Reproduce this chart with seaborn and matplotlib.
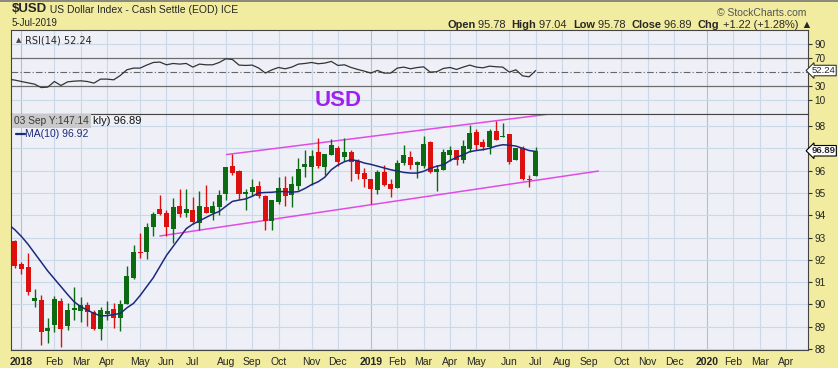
import numpy as np
import pandas as pd
import matplotlib
matplotlib.use("Agg")
import matplotlib.pyplot as plt
import matplotlib.transforms as mtransforms
import seaborn as sns

# weekly candles: index 0 = week of 25 Dec 2017 ... 79 = week of 1 Jul 2019
opens = [92.86, 91.81, 91.69, 90.17, 90.20, 88.83, 89.08, 90.17, 89.04, 89.75,
         89.72, 89.97, 89.65, 88.90, 89.57, 89.79, 89.40, 90.02, 91.20, 92.36,
         92.36, 93.48, 94.26, 94.11, 93.38, 94.41, 94.09, 94.23, 93.65, 94.35,
         94.10, 94.37, 94.96, 96.19, 95.97, 94.96, 95.03, 95.32, 94.85, 93.73,
         94.59, 95.21, 94.92, 95.30, 96.15, 96.16, 96.82, 96.16, 96.71, 97.01,
         96.61, 96.82, 96.42, 95.89, 95.64, 95.12, 95.94, 95.40, 95.22, 96.34,
         96.61, 96.26, 96.22, 97.28, 95.92, 96.04, 96.71, 96.91, 96.49, 96.97,
         97.72, 97.28, 97.06, 97.76, 97.51, 97.65, 96.49, 97.01, 95.60, 95.78]
highs = [92.90, 91.91, 92.29, 90.68, 90.42, 89.38, 90.38, 90.27, 90.08, 90.80,
         90.34, 90.12, 89.75, 89.90, 90.17, 90.05, 90.20, 91.72, 92.66, 93.19,
         93.64, 94.16, 94.90, 94.23, 94.76, 95.17, 95.17, 94.83, 95.07, 95.37,
         94.62, 95.12, 96.16, 96.76, 96.04, 95.17, 95.62, 95.52, 94.92, 94.67,
         95.71, 95.74, 95.77, 96.57, 96.94, 96.94, 97.46, 96.76, 97.42, 97.12,
         97.46, 96.91, 96.52, 96.12, 95.64, 96.04, 96.26, 95.62, 96.49, 97.13,
         96.87, 96.42, 97.57, 97.31, 96.26, 96.97, 97.09, 96.91, 97.39, 98.06,
         97.87, 97.42, 97.87, 98.21, 98.13, 97.65, 97.01, 97.09, 95.82, 97.04]
lows = [91.65, 91.36, 90.42, 89.87, 88.18, 88.28, 88.78, 88.10, 88.85, 89.30,
        89.22, 89.03, 88.85, 88.43, 89.30, 88.93, 88.82, 90.00, 91.13, 92.07,
        92.02, 93.07, 94.02, 93.07, 92.74, 93.93, 93.93, 93.60, 93.35, 94.10,
        93.80, 94.02, 94.67, 95.82, 94.73, 94.25, 94.85, 94.77, 93.32, 93.32,
        94.52, 94.40, 94.37, 95.14, 95.70, 95.37, 96.12, 95.82, 96.71, 96.22,
        96.42, 95.52, 95.62, 95.26, 94.52, 94.96, 95.32, 94.82, 95.22, 96.26,
        96.07, 95.67, 96.12, 95.89, 95.07, 96.04, 96.42, 96.26, 96.34, 96.82,
        96.91, 96.91, 96.76, 97.39, 97.51, 96.31, 96.49, 95.56, 95.26, 95.78]
closes = [91.72, 91.57, 90.57, 90.29, 88.78, 88.93, 90.23, 88.90, 89.75, 89.85,
          89.97, 89.67, 88.90, 89.75, 89.70, 89.40, 90.02, 91.27, 92.36, 92.32,
          93.46, 94.05, 94.05, 93.46, 94.35, 94.05, 94.28, 93.71, 94.40, 94.10,
          94.40, 94.89, 96.16, 95.89, 94.96, 95.03, 95.26, 94.85, 93.73, 94.67,
          95.21, 94.85, 95.40, 96.07, 96.30, 96.67, 96.19, 96.76, 97.13, 96.40,
          96.82, 96.37, 95.86, 95.64, 95.17, 95.92, 95.37, 95.19, 96.34, 96.69,
          96.26, 96.39, 97.19, 95.94, 96.07, 96.82, 96.94, 96.49, 97.09, 97.69,
          97.13, 97.06, 97.76, 97.39, 97.57, 96.37, 97.01, 95.62, 95.57, 96.89]

# MA(10) as drawn, index -1 .. 79
ma10 = [93.60, 93.35, 93.05, 92.70, 92.30, 91.90, 91.50, 91.15, 90.80, 90.45,
        90.12, 89.90, 89.75, 89.60, 89.49, 89.50, 89.55, 89.60, 89.85, 90.05,
        90.40, 90.80, 91.20, 91.70, 92.20, 92.60, 93.00, 93.40, 93.60, 93.75,
        93.90, 94.05, 94.17, 94.40, 94.62, 94.68, 94.73, 94.85, 95.00, 95.02,
        95.03, 95.06, 95.06, 95.03, 95.06, 95.20, 95.37, 95.50, 95.70, 96.04,
        96.25, 96.40, 96.49, 96.44, 96.34, 96.28, 96.20, 96.12, 96.04, 95.98,
        95.92, 95.89, 95.89, 95.97, 96.10, 96.20, 96.26, 96.45, 96.60, 96.71,
        96.85, 96.90, 96.94, 97.00, 97.10, 97.16, 97.14, 97.10, 97.00, 96.90,
        96.86]

# RSI(14), index -1 .. 79
rsi14 = [40.0, 38.6, 36.6, 34.7, 32.8, 28.0, 28.6, 36.6, 30.9, 36.1,
         37.1, 37.6, 36.6, 34.3, 40.0, 40.0, 39.0, 45.2, 53.3, 55.7,
         55.7, 60.0, 63.7, 64.3, 60.4, 62.3, 61.4, 62.3, 57.1, 61.4,
         60.4, 60.4, 63.7, 69.0, 68.0, 60.0, 59.5, 60.0, 55.7, 48.6,
         53.3, 56.6, 54.7, 57.1, 61.4, 62.3, 63.7, 61.9, 62.8, 65.2,
         59.5, 60.4, 56.6, 53.8, 51.4, 48.6, 52.4, 48.6, 48.6, 55.7,
         57.1, 54.7, 56.5, 57.5, 50.0, 50.5, 55.2, 56.6, 53.8, 57.1,
         60.0, 57.1, 56.1, 58.5, 57.6, 57.1, 50.0, 53.3, 44.7, 43.3,
         52.24]

# channel trendlines (week index, price)
upper_x = [32.1, 82.0]
upper_y = [96.72, 98.57]
lower_x = [22.0, 88.5]
lower_y = [93.07, 95.98]

# month gridlines / labels (week index)
month_pos = [1, 6, 10, 14, 19, 23, 27, 32, 36, 40, 45, 49,
             54, 58, 62, 66, 70, 75, 79, 83, 87, 92, 96, 100,
             105, 109, 113, 117]
month_labels = ["2018", "Feb", "Mar", "Apr", "May", "Jun", "Jul", "Aug", "Sep", "Oct", "Nov", "Dec",
                "2019", "Feb", "Mar", "Apr", "May", "Jun", "Jul", "Aug", "Sep", "Oct", "Nov", "Dec",
                "2020", "Feb", "Mar", "Apr"]
price_ticks = [88, 89, 90, 91, 92, 93, 94, 95, 96, 98]
rsi_ticks = [10, 30, 70, 90]

BG = "#F1EC9F"
PANEL = "#EFF0F7"
GRID = "#C9D9E8"
GRID_YEAR = "#A8C3DC"
GREEN = "#0B6A12"
RED = "#DD1010"
NAVY = "#1C2A7C"
MAGENTA = "#E24BE6"

sns.set_style("white")
plt.rcParams["font.family"] = ["Liberation Sans", "DejaVu Sans"]

W, H = 838, 368


def fx(x):
    return x / W


def fy(y):
    return 1 - y / H


fig = plt.figure(figsize=(W / 100, H / 100), dpi=100, facecolor=BG)
ax_r = fig.add_axes([fx(11), fy(113.5), (808 - 11) / W, (113.5 - 30) / H], facecolor=PANEL)
ax = fig.add_axes([fx(11), fy(350), (808 - 11) / W, (350 - 113.5) / H], facecolor=PANEL)

xmin, xmax = -0.58, 120.3
weeks = np.arange(len(closes))
ind_weeks = np.arange(-1, len(closes))

for a in (ax, ax_r):
    a.set_xlim(xmin, xmax)
    for p, lab in zip(month_pos, month_labels):
        a.axvline(p, color=GRID_YEAR if lab.isdigit() else GRID, lw=0.8, zorder=0)

# ---- price panel
ax.set_ylim(87.96, 98.56)
for v in range(88, 99):
    ax.axhline(v, color=GRID, lw=0.8, zorder=0)

df = pd.DataFrame({"week": weeks, "open": opens, "high": highs, "low": lows, "close": closes})
cols = np.where(df["close"] >= df["open"], GREEN, RED)
ax.vlines(df["week"], df["low"], df["high"], colors=cols, lw=1, zorder=3)
body_lo = df[["open", "close"]].min(axis=1)
body_h = (df["close"] - df["open"]).abs().clip(lower=0.05)
ax.bar(df["week"], body_h, bottom=body_lo, width=0.76, color=cols, linewidth=0, zorder=4)

sns.lineplot(x=ind_weeks, y=ma10, ax=ax, color=NAVY, lw=1.1, zorder=5)
ax.plot(upper_x, upper_y, color=MAGENTA, lw=1.1, zorder=2)
ax.plot(lower_x, lower_y, color=MAGENTA, lw=1.1, zorder=2)

ax.yaxis.tick_right()
ax.set_yticks(price_ticks)
ax.set_yticklabels([str(t) for t in price_ticks])
ax.set_xticks(month_pos)
ax.set_xticklabels(month_labels)
for t in ax.get_xticklabels():
    if t.get_text().isdigit():
        t.set_fontweight("bold")
ax.set_xticks(np.arange(0, 121), minor=True)
ax.tick_params(axis="x", which="major", length=3, pad=2, labelsize=7.5, color="#333333")
ax.tick_params(axis="x", which="minor", length=2, color="#333333")
ax.tick_params(axis="y", which="major", length=3, pad=1.5, labelsize=7.2, color="#333333")
ax.set_xlabel("")
ax.set_ylabel("")

blend = mtransforms.blended_transform_factory(ax.transAxes, ax.transData)
ax.text(1.0045, closes[-1], f"{closes[-1]:.2f}", transform=blend, ha="left", va="center",
        fontsize=6.8, fontweight="bold",
        bbox=dict(boxstyle="larrow,pad=0.08", fc="white", ec="black", lw=0.8), clip_on=False)

# legend area of price panel
ax.plot([0.006, 0.017], [0.912, 0.912], transform=ax.transAxes, color=NAVY, lw=1.6)
ax.text(0.018, 0.912, "MA(10) 96.92", transform=ax.transAxes, fontsize=7.5, color=NAVY,
        va="center", ha="left")
ax.text(0.004, 0.968, "03 Sep Y:147.14", transform=ax.transAxes, fontsize=7.3, color="#3A3A3A",
        va="center", ha="left", zorder=10,
        bbox=dict(boxstyle="square,pad=0.22", fc="#C9C9C9", ec="none"))
ax.text(0.1035, 0.968, "kly) 96.89", transform=ax.transAxes, fontsize=8, color="#111111",
        va="center", ha="left")

# ---- RSI panel
ax_r.set_ylim(-9, 110)
for v in (10, 90):
    ax_r.axhline(v, color=GRID, lw=0.8, zorder=0)
for v in (30, 70):
    ax_r.axhline(v, color="#6E6E6E", lw=0.9, zorder=1)
ax_r.axhline(50, color="#666666", lw=0.8, ls=(0, (6, 2, 1, 2)), zorder=1)
sns.lineplot(x=ind_weeks, y=rsi14, ax=ax_r, color="#333333", lw=0.9, zorder=3)
ax_r.yaxis.tick_right()
ax_r.set_yticks(rsi_ticks)
ax_r.set_yticklabels([str(t) for t in rsi_ticks])
ax_r.tick_params(axis="y", length=3, pad=1.5, labelsize=7.2, color="#333333")
ax_r.tick_params(axis="x", bottom=False, labelbottom=False)
ax_r.set_xlabel("")
ax_r.set_ylabel("")
blend_r = mtransforms.blended_transform_factory(ax_r.transAxes, ax_r.transData)
ax_r.text(1.0045, rsi14[-1], f"{rsi14[-1]:.2f}", transform=blend_r, ha="left", va="center",
          fontsize=6.8, bbox=dict(boxstyle="larrow,pad=0.08", fc="white", ec="#333333", lw=0.8),
          clip_on=False)
ax_r.text(0.018, 0.88, "RSI(14) 52.24", transform=ax_r.transAxes, fontsize=7,
          family="DejaVu Sans", va="center", ha="left")
ax_r.text(0.0065, 0.88, "\u25B2", transform=ax_r.transAxes, fontsize=5, color="#444444",
          family="DejaVu Sans", va="center", ha="left")

for a in (ax, ax_r):
    for s in a.spines.values():
        s.set_color("#444444")
        s.set_linewidth(0.8)
    a.spines["right"].set_linestyle((0, (1, 1)))
ax.spines["bottom"].set_linestyle((0, (1, 1)))

# ---- header
fig.add_artist(plt.Line2D([0, 1], [fy(0.6), fy(0.6)], color="#777777", lw=1.2))
t1 = fig.text(fx(11.5), fy(12), "$USD", fontsize=9.5, fontweight="bold", va="baseline")
ax_r.annotate(" US Dollar Index - Cash Settle (EOD) ICE", xy=(1, 0), xycoords=t1,
              fontsize=7.5, va="bottom", ha="left", annotation_clip=False)
fig.text(fx(11.5), fy(26.5), "5-Jul-2019", fontsize=7, va="baseline")
fig.text(fx(806), fy(16), "\u00A9 StockCharts.com", fontsize=7.5, color="#555555",
         ha="right", va="baseline")

parts = [("Open", True), (" 95.78  ", False), ("High", True), (" 97.04  ", False),
         ("Low", True), (" 95.78  ", False), ("Close", True), (" 96.89  ", False),
         ("Chg", True), (" +1.22 (+1.28%) \u25B2", False)]
prev = fig.text(fx(447), fy(27.5), parts[0][0], fontsize=7.9, fontweight="bold", va="baseline")
for txt, bold in parts[1:]:
    prev = ax_r.annotate(txt, xy=(1, 0), xycoords=prev, fontsize=7.9,
                         fontweight="bold" if bold else "normal",
                         va="bottom", ha="left", annotation_clip=False)

fig.text(fx(338), fy(100), "USD", fontsize=16, fontweight="bold", color="#A020F0",
         ha="center", va="center")

fig.savefig("out.png", dpi=100, facecolor=BG)
